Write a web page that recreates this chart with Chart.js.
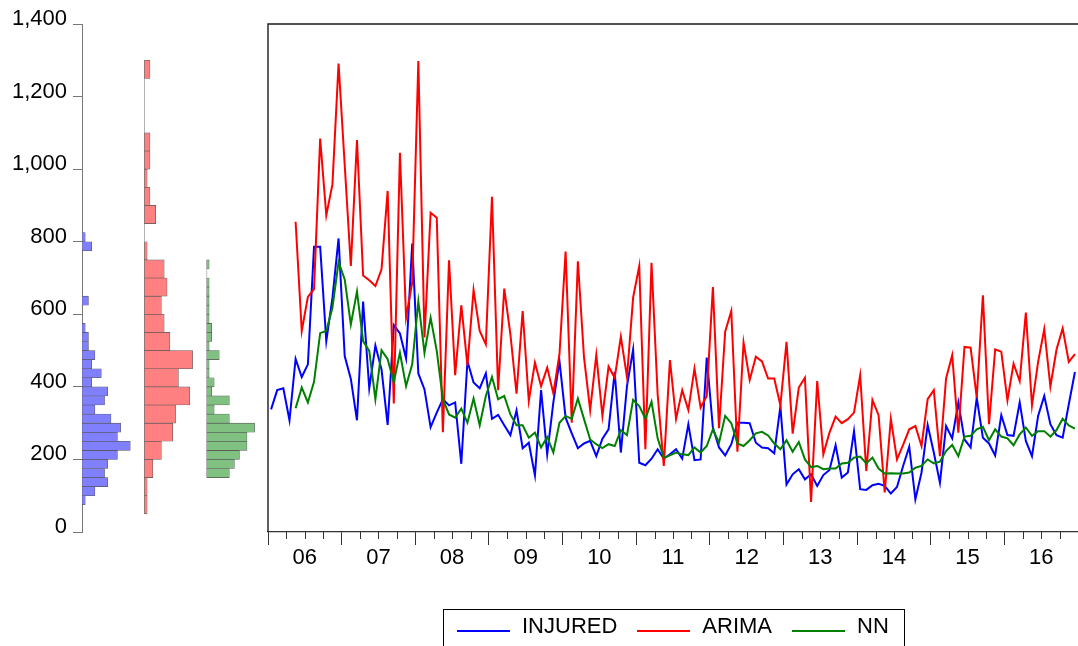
<!DOCTYPE html>
<html>
<head>
<meta charset="utf-8">
<script src="https://cdn.jsdelivr.net/npm/chart.js@4.4.1/dist/chart.umd.min.js"></script>
<style>
  html, body { margin: 0; padding: 0; background: #fff; }
  #wrap { position: relative; width: 1078px; height: 646px; overflow: hidden; }
  #legend {
    position: absolute; left: 443px; top: 609px; width: 462px; height: 60px;
    box-sizing: border-box; border: 1px solid #000; padding: 3px 0 0 13px;
    display: flex; align-items: flex-start;
    font: 22px "Liberation Sans", Arial, sans-serif; color: #000;
  }
  .item { display: flex; align-items: center; margin-right: 20px; }
  .swatch { width: 53px; height: 2px; margin-right: 12px; position: relative; top: 5px; }
</style>
</head>
<body>
<div id="wrap">
  <canvas id="chart" width="1078" height="646"></canvas>
  <div id="legend"></div>
</div>
<script>
// monthly data, Jan 2006 - Dec 2016
const yearLabels = ['06', '07', '08', '09', '10', '11', '12', '13', '14', '15', '16'];

const injured = [
  338, 391, 396, 308, 477, 427, 462, 786, 786, 526,
  645, 809, 485, 422, 308, 635, 396, 514, 448, 295,
  570, 547, 478, 795, 437, 393, 289, 329, 366, 349,
  357, 188, 471, 412, 396, 437, 312, 323, 294, 267,
  335, 231, 246, 156, 391, 214, 357, 471, 315, 272,
  231, 244, 251, 209, 257, 283, 441, 219, 402, 503,
  191, 184, 202, 228, 202, 214, 228, 202, 297, 198,
  200, 481, 288, 233, 211, 242, 301, 301, 300, 246,
  233, 231, 217, 346, 131, 159, 173, 145, 159, 127,
  157, 171, 239, 150, 164, 278, 118, 116, 129, 133,
  127, 106, 124, 182, 235, 90, 164, 295, 219, 136,
  292, 258, 357, 255, 233, 370, 260, 244, 211, 322,
  267, 265, 357, 251, 209, 320, 375, 297, 267, 260,
  352, 441
];

// the two fitted series start in May 2006 (month index 4)
const fitStart = 4;
const arima = [
  855, 554, 648, 669, 1084, 873, 958, 1291, 1012, 733,
  1080, 707, 694, 678, 724, 940, 354, 1045, 591, 687,
  1298, 536, 880, 866, 275, 749, 432, 625, 459, 667,
  554, 517, 924, 391, 671, 545, 381, 609, 361, 467,
  402, 453, 382, 490, 773, 301, 746, 481, 336, 488,
  320, 456, 425, 538, 427, 646, 733, 228, 742, 379,
  182, 474, 312, 391, 336, 450, 343, 375, 675, 286,
  552, 609, 221, 522, 419, 483, 470, 423, 423, 349,
  524, 271, 398, 425, 83, 416, 214, 274, 318, 300,
  311, 329, 432, 168, 364, 322, 109, 312, 200, 240,
  283, 292, 237, 366, 391, 209, 423, 487, 274, 510,
  508, 370, 652, 297, 503, 497, 363, 464, 416, 605,
  349, 469, 559, 401, 503, 561, 469, 490
];
const nn = [
  341, 398, 357, 414, 548, 554, 618, 744, 696, 572,
  663, 526, 499, 366, 501, 476, 413, 494, 402, 462,
  636, 494, 591, 499, 366, 324, 315, 340, 301, 368,
  294, 375, 427, 366, 375, 324, 294, 294, 260, 274,
  233, 262, 219, 301, 320, 312, 368, 311, 255, 242,
  231, 242, 237, 281, 267, 364, 347, 312, 359, 258,
  205, 211, 219, 214, 212, 233, 219, 237, 283, 246,
  320, 300, 244, 237, 253, 272, 276, 266, 244, 228,
  253, 221, 248, 200, 179, 182, 173, 175, 175, 189,
  191, 205, 208, 189, 205, 175, 161, 162, 161, 161,
  164, 177, 182, 200, 189, 194, 223, 240, 209, 263,
  265, 283, 290, 253, 283, 263, 258, 239, 269, 288,
  265, 278, 278, 263, 281, 312, 294, 285
];

// histograms: lower edge of first bin, bin width, counts per bin
const injBinStart = 75, injBinWidth = 25;
const injCounts = [1, 4, 8, 7, 8, 11, 15, 11, 12, 9, 4, 7, 8, 3, 6, 3, 4, 2, 2, 1, 0, 0, 2, 0, 0, 0, 0, 0, 3, 1];
const arimaBinStart = 50, arimaBinWidth = 50;
const arimaCounts = [1, 1, 3, 6, 10, 11, 16, 12, 17, 9, 7, 6, 8, 7, 1, 0, 4, 2, 1, 2, 2, 0, 0, 0, 2];
const nnBinStart = 150, nnBinWidth = 25;
const nnCounts = [9, 11, 13, 16, 16, 19, 9, 3, 9, 2, 3, 1, 1, 5, 1, 2, 2, 1, 1, 1, 1, 1, 0, 1];

const seriesNames = ['INJURED', 'ARIMA', 'NN'];
const seriesColors = ['#0000ff', '#ff0000', '#008000'];

function series(values, offset) {
  return values.map((v, k) => ({ x: offset + k + 0.5, y: v }));
}
function histData(start, width, counts) {
  return counts.map((c, k) => ({ x: c, y: start + width * (k + 0.5) }));
}
function baseline(start, width, counts) {
  return [{ x: 0, y: start }, { x: 0, y: start + width * counts.length }];
}

Chart.defaults.font.family = '"Liberation Sans", Arial, sans-serif';
Chart.defaults.font.size = 22;
Chart.defaults.color = '#000';

const panelFit = s => { s.height = 114; };

const lineDs = (i, data, offset, order) => ({
  type: 'line', label: seriesNames[i], data: series(data, offset),
  borderColor: seriesColors[i], borderWidth: 2, pointRadius: 0, tension: 0,
  xAxisID: 'xm', yAxisID: 'y', order: order
});
const histDs = (data, xId, yId, fill) => ({
  type: 'bar', indexAxis: 'y', data: data, xAxisID: xId, yAxisID: yId, grouped: false,
  backgroundColor: fill, borderColor: '#555', borderWidth: 0.6, borderSkipped: false,
  categoryPercentage: 1, barPercentage: 1, order: 5
});
const baseDs = (data, xId, yId) => ({
  type: 'line', data: data, xAxisID: xId, yAxisID: yId,
  borderColor: '#777', borderWidth: 1, pointRadius: 0, order: 6
});
const hiddenY = () => ({ type: 'linear', position: 'left', min: 0, max: 1400, display: false, offset: false });

// main frame and short quarter ticks
const framePlugin = {
  id: 'frame',
  afterDraw(chart) {
    const { ctx, chartArea } = chart;
    const xs = chart.scales.xm;
    ctx.save();
    ctx.strokeStyle = '#1a1a1a';
    ctx.lineWidth = 1.4;
    ctx.beginPath();
    ctx.moveTo(xs.left, chartArea.bottom);
    ctx.lineTo(xs.left, chartArea.top);
    ctx.lineTo(xs.right, chartArea.top);
    ctx.stroke();
    ctx.strokeStyle = '#333';
    ctx.lineWidth = 1;
    ctx.beginPath();
    xs.ticks.forEach(t => {
      if (t.value % 12 !== 0) {
        const px = Math.round(xs.getPixelForValue(t.value)) + 0.5;
        ctx.moveTo(px, xs.top);
        ctx.lineTo(px, xs.top + 7);
      }
    });
    ctx.stroke();
    ctx.restore();
  }
};

new Chart(document.getElementById('chart'), {
  type: 'line',
  data: {
    datasets: [
      lineDs(0, injured, 0, 3),
      lineDs(1, arima, fitStart, 2),
      lineDs(2, nn, fitStart, 1),
      histDs(histData(injBinStart, injBinWidth, injCounts), 'xh1', 'yh1', '#8080ff'),
      histDs(histData(arimaBinStart, arimaBinWidth, arimaCounts), 'xh2', 'yh2', '#ff8080'),
      histDs(histData(nnBinStart, nnBinWidth, nnCounts), 'xh3', 'yh3', '#80c080'),
      baseDs(baseline(arimaBinStart, arimaBinWidth, arimaCounts), 'xh2', 'yh2'),
      baseDs(baseline(nnBinStart, nnBinWidth, nnCounts), 'xh3', 'yh3')
    ]
  },
  options: {
    responsive: false,
    animation: false,
    events: [],
    devicePixelRatio: 1,
    layout: { padding: { top: 24, right: 0, bottom: 0, left: 0 } },
    plugins: { legend: { display: false }, tooltip: { enabled: false } },
    scales: {
      xh1: { type: 'linear', position: 'bottom', stack: 'panels', stackWeight: 62.3, min: 0,
             max: Math.max(...injCounts) * 1.29, display: false, afterFit: panelFit },
      xh2: { type: 'linear', position: 'bottom', stack: 'panels', stackWeight: 62.3, min: 0,
             max: Math.max(...arimaCounts) * 1.29, display: false, afterFit: panelFit },
      xh3: { type: 'linear', position: 'bottom', stack: 'panels', stackWeight: 61.4, min: 0,
             max: Math.max(...nnCounts) * 1.28, display: false, afterFit: panelFit },
      xm: {
        type: 'linear', position: 'bottom', stack: 'panels', stackWeight: 810,
        min: 0, max: 132, offset: false, afterFit: panelFit,
        grid: {
          drawOnChartArea: false, tickLength: 13, lineWidth: 1,
          tickColor: c => (c.tick && c.tick.value % 12 === 0 ? '#333' : 'rgba(0,0,0,0)')
        },
        border: { color: '#333', width: 1.2 },
        ticks: {
          stepSize: 3, autoSkip: false, maxRotation: 0, minRotation: 0, padding: 0,
          callback: v => (v % 12 === 6 ? yearLabels[(v - 6) / 12] : '')
        }
      },
      y: {
        type: 'linear', position: 'left', min: 0, max: 1400,
        afterFit: s => { s.width = 82; },
        grid: { drawOnChartArea: false, tickLength: 9, color: '#777' },
        border: { color: '#777', width: 1 },
        ticks: { stepSize: 200, padding: 6, labelOffset: -5, callback: v => v.toLocaleString('en-US') }
      },
      yh1: hiddenY(),
      yh2: hiddenY(),
      yh3: hiddenY()
    }
  },
  plugins: [framePlugin]
});

// legend box under the main panel
const legend = document.getElementById('legend');
seriesNames.forEach((name, i) => {
  const item = document.createElement('div');
  item.className = 'item';
  const sw = document.createElement('span');
  sw.className = 'swatch';
  sw.style.background = seriesColors[i];
  const txt = document.createElement('span');
  txt.textContent = name;
  item.appendChild(sw);
  item.appendChild(txt);
  legend.appendChild(item);
});
</script>
</body>
</html>
